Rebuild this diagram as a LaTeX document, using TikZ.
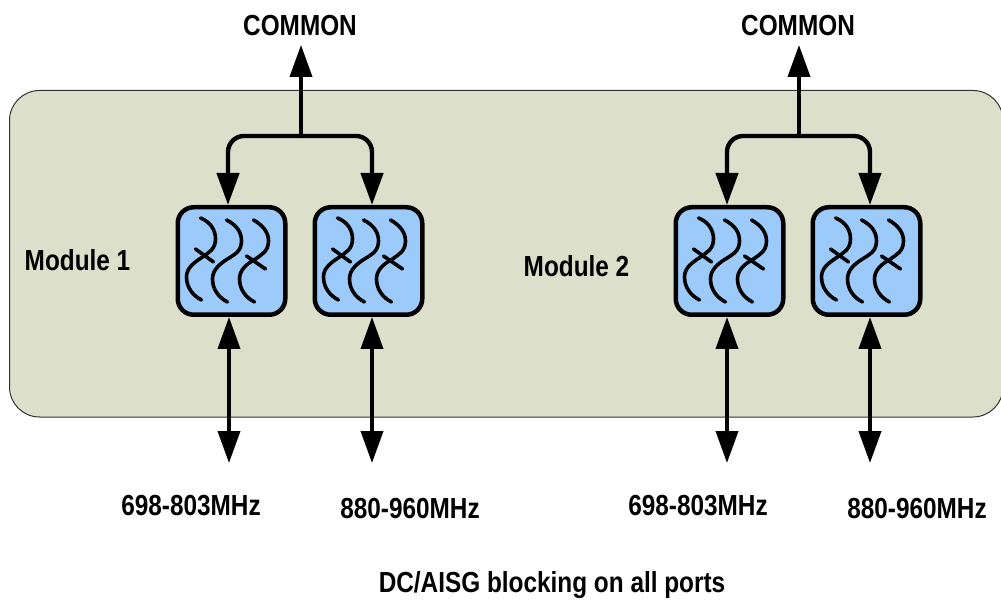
\documentclass[tikz,border=0pt]{standalone}
\usepackage{fontspec}
\setmainfont[FakeStretch=0.84]{Liberation Sans}
\usetikzlibrary{arrows.meta}
\definecolor{panelfill}{HTML}{DCDFC9}
\definecolor{filterfill}{HTML}{9CCBFB}
\tikzset{
  x=1pt,y=-1pt,
  panel/.style={draw=black!80,line width=1pt,fill=panelfill,rounded corners=30},
  filterbox/.style={draw=black,line width=4.5pt,fill=filterfill,rounded corners=16,minimum size=107.5pt,inner sep=0pt,outer sep=2.25pt},
  wave/.style={draw=black,line width=3.6pt,line cap=round},
  lbl/.style={font=\bfseries\fontsize{29}{31}\selectfont,text=black,inner sep=0pt},
  bus/.style={draw=black,line width=4.4pt,rounded corners=16,-{Triangle[length=32pt,width=22pt]}},
  stem/.style={draw=black,line width=3.8pt,-{Triangle[length=32pt,width=22pt]}},
  port/.style={draw=black,line width=3.8pt,{Triangle[length=32pt,width=22pt]}-{Triangle[length=32pt,width=22pt]}},
  pics/filtercurves/.style={code={
    \draw[wave] (-31,-43) .. controls (-21,-39) and (-16,-31) .. (-16,-22) .. controls (-16,-11) and (-24,-8) .. (-29,-4) .. controls (-38,2) and (-45,7) .. (-45,16) .. controls (-45,27) and (-38,35) .. (-30,39);
    \draw[wave] (-36,-12) -- (-18,1);
    \draw[wave] (-5,-41) .. controls (5,-36) and (10,-29) .. (10,-20) .. controls (10,-9) and (2,-6) .. (-4,-2) .. controls (-12,3) and (-19,9) .. (-19,18) .. controls (-19,29) and (-12,37) .. (-4,41);
    \draw[wave] (22,-41) .. controls (31,-36) and (37,-29) .. (37,-20) .. controls (37,-9) and (29,-6) .. (24,-2) .. controls (15,3) and (8,9) .. (8,18) .. controls (8,29) and (15,37) .. (23,41);
    \draw[wave] (15,-5) -- (34,8);
  }}
}
\begin{document}
\begin{tikzpicture}
\useasboundingbox (0,0) rectangle (1001,601);
\fill[white] (0,0) rectangle (1001,601);
\path[panel] (9.5,90.5) rectangle (1003,417);

\node[filterbox] (f1) at (231.5,261) {};
\node[filterbox] (f2) at (368.5,261) {};
\node[filterbox] (f3) at (729.5,261) {};
\node[filterbox] (f4) at (866.5,261) {};
\foreach \n in {f1,f2,f3,f4} \pic at (\n) {filtercurves};

\node[lbl] (c1) at (300,26) {COMMON};
\node[lbl] (c2) at (798,26) {COMMON};
\node[lbl] (m1) at (77.5,260) {Module 1};
\node[lbl] (m2) at (576.5,266) {Module 2};
\node[lbl] (p1) at (191,506) {698-803MHz};
\node[lbl] (p2) at (410,509) {880-960MHz};
\node[lbl] (p3) at (698,506) {698-803MHz};
\node[lbl] (p4) at (917,509) {880-960MHz};
\node[lbl] (note) at (552,585) {DC/AISG blocking on all ports};

\coordinate (j1) at (301,136);
\coordinate (j2) at (799,136);
\coordinate (t1) at (301,45);
\coordinate (t2) at (799,45);
\coordinate (b1) at (229,463);
\coordinate (b2) at (372,463);
\coordinate (b3) at (727,463);
\coordinate (b4) at (870,463);

\draw[stem] (j1) -- (t1);
\draw[stem] (j2) -- (t2);
\draw[bus] (j1) -| ([xshift=-3.5pt]f1.north);
\draw[bus] (j1) -| ([xshift=3.5pt]f2.north);
\draw[bus] (j2) -| ([xshift=-2.5pt]f3.north);
\draw[bus] (j2) -| ([xshift=3.5pt]f4.north);
\draw[port] (b1) -- (b1 |- f1.south);
\draw[port] (b2) -- (b2 |- f2.south);
\draw[port] (b3) -- (b3 |- f3.south);
\draw[port] (b4) -- (b4 |- f4.south);
\end{tikzpicture}
\end{document}
